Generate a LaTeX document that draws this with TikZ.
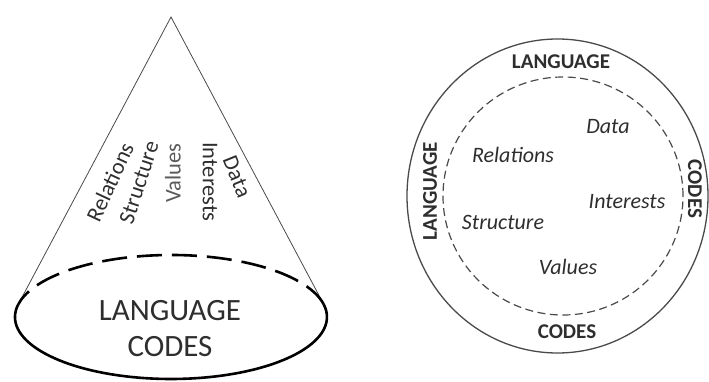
\documentclass[tikz,border=0pt]{standalone}
\usepackage{fontspec}
\setmainfont{Carlito}
\definecolor{ink}{HTML}{2E2E2E}
\definecolor{lightink}{HTML}{5A5A5A}
\definecolor{linegray}{HTML}{4A4A4A}
\begin{document}
\begin{tikzpicture}[x=1pt,y=1pt,
  conetext/.style={text=ink,font=\fontsize{22.5}{24}\selectfont,inner sep=0pt},
  circtext/.style={text=ink,font=\fontsize{22}{24}\selectfont\itshape,inner sep=0pt},
  ringlabel/.style={text=ink,font=\fontsize{21}{22}\selectfont\bfseries,inner sep=0pt},
  bigtext/.style={text=ink,font=\fontsize{31}{36}\selectfont,inner sep=0pt,align=center},
  coneside/.style={draw=linegray,line width=0.8pt},
  basedash/.style={draw=black,line width=2.6pt,dash pattern=on 25pt off 10pt},
  basesolid/.style={draw=black,line width=2.6pt},
  outerring/.style={draw=linegray,line width=1.3pt},
  innerring/.style={draw=linegray,line width=1.2pt,dash pattern=on 8pt off 4.5pt}]
\useasboundingbox (0,0) rectangle (709,381);
% cone
\coordinate (apex) at (171,364);
\coordinate (tl) at (18.36,76.81);
\coordinate (tr) at (323.64,76.81);
\draw[coneside] (tl) -- (apex) -- (tr);
\draw[basedash] (tr) arc[start angle=11.92,end angle=168.08,x radius=156pt,y radius=62pt];
\draw[basesolid] (tl) arc[start angle=168.08,end angle=371.92,x radius=156pt,y radius=62pt];
\node[conetext,rotate=65] (crel) at (110,199) {Relations};
\node[conetext,rotate=72] (cstr) at (139,198.5) {Structure};
\node[conetext,rotate=90,text=lightink] (cval) at (173,208) {Values};
\node[conetext,rotate=-90] (cint) at (210,199) {Interests};
\node[conetext,rotate=-68] (cdat) at (237,204) {Data};
\node[bigtext] (clang) at (170,70) {LANGUAGE};
\node[bigtext] (ccod) at (170,34) {CODES};
% circle
\draw[outerring] (557.5,185) ellipse[x radius=150.5pt,y radius=157pt];
\draw[innerring] (563,185) ellipse[x radius=120pt,y radius=119pt];
\node[ringlabel] (rtop) at (561,319) {LANGUAGE};
\node[ringlabel] (rbot) at (567,49) {CODES};
\node[ringlabel,rotate=90] (rleft) at (430,190) {LANGUAGE};
\node[ringlabel,rotate=-90] (rright) at (695,192) {CODES};
\node[circtext] (idat) at (608,254) {Data};
\node[circtext] (irel) at (513,226) {Relations};
\node[circtext] (iint) at (627,179) {Interests};
\node[circtext] (istr) at (503,159) {Structure};
\node[circtext] (ival) at (568,114) {Values};
\end{tikzpicture}
\end{document}
